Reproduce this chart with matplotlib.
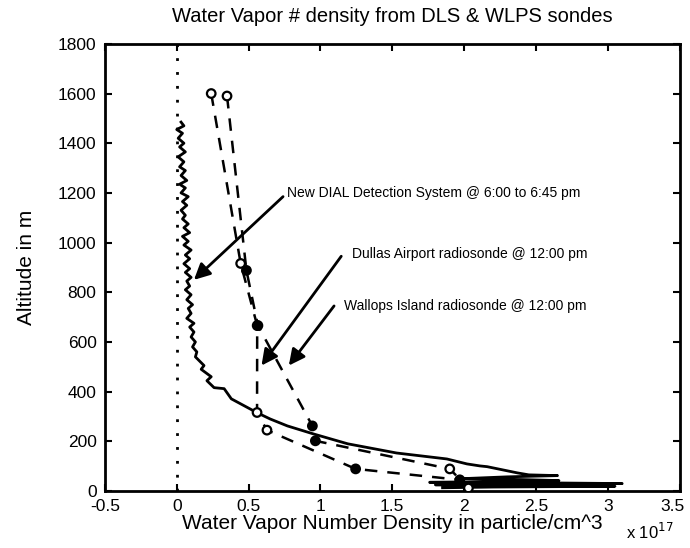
import matplotlib.pyplot as plt
import matplotlib.transforms as mtransforms
import numpy as np

plt.rcParams['font.family'] = ['Liberation Sans', 'DejaVu Sans']

# DIAL profile (x in units of 1e17 particles/cm^3, altitude in m)
dial_x = [0.03, 0.05, 0.00, 0.04, 0.01, 0.05, 0.02, 0.06, 0.01, 0.05, 0.02,
          0.06, 0.03, 0.07, 0.02, 0.06, 0.03, 0.08, 0.04, 0.07, 0.03, 0.06,
          0.04, 0.08, 0.05, 0.09, 0.04, 0.08, 0.05, 0.10, 0.06, 0.09, 0.05,
          0.09, 0.06, 0.10, 0.07, 0.09, 0.06, 0.10, 0.07, 0.11, 0.08, 0.10,
          0.07, 0.12, 0.09, 0.12, 0.10, 0.13, 0.11, 0.14, 0.13, 0.19, 0.17,
          0.24, 0.21, 0.26, 0.33, 0.38, 0.47, 0.56, 0.65, 0.77,
          0.95, 1.19, 1.53, 1.88, 2.02, 2.11, 2.16, 2.37, 2.45, 2.65, 2.30, 2.00,
          2.40, 2.66, 2.20, 1.76, 2.50, 3.10, 2.30, 1.80, 2.60, 3.05, 2.20, 1.85]
dial_y = [1485, 1470, 1455, 1440, 1420, 1400, 1385, 1365, 1345, 1325, 1305,
          1290, 1270, 1250, 1235, 1220, 1200, 1185, 1165, 1150, 1130, 1110,
          1095, 1075, 1060, 1040, 1025, 1005, 990, 970, 950, 935, 915,
          895, 880, 860, 845, 825, 810, 790, 770, 750, 735, 715,
          695, 675, 660, 640, 620, 600, 580, 560, 540, 505, 490,
          460, 444, 416, 412, 371, 343, 315, 290, 262,
          230, 190, 153, 129, 109, 101, 98, 73, 65, 62, 57, 50,
          46, 42, 38, 35, 33, 30, 27, 25, 22, 19, 16, 13]

# Dulles Airport radiosonde
dulles_x = [0.24, 0.445, 0.56, 0.559, 0.628, 1.245, 1.97]
dulles_y = [1600, 916, 666, 316, 245, 89, 45]
dulles_filled = [False, False, True, False, False, True, True]

# Wallops Island radiosonde
wallops_x = [0.35, 0.485, 0.565, 0.944, 0.965, 1.90, 2.03]
wallops_y = [1590, 888, 666, 262, 202, 89, 12]
wallops_filled = [False, True, True, True, True, False, False]

x_ticks = [-0.5, 0, 0.5, 1, 1.5, 2, 2.5, 3, 3.5]
y_ticks = [0, 200, 400, 600, 800, 1000, 1200, 1400, 1600, 1800]

fig = plt.figure(figsize=(6.9, 5.48), dpi=100)
ax = fig.add_axes([0.152, 0.104, 0.833, 0.816])

ax.plot([0, 0], [0, 1800], color='black', linestyle=(0, (1, 4)), linewidth=2)
ax.plot(dial_x, dial_y, color='black', linewidth=2)

for xs, ys, filled in [(dulles_x, dulles_y, dulles_filled),
                       (wallops_x, wallops_y, wallops_filled)]:
    ax.plot(xs, ys, color='black', linestyle=(0, (5, 4)), linewidth=1.8)
    faces = ['black' if f else 'white' for f in filled]
    ax.scatter(xs, ys, s=38, facecolors=faces, edgecolors='black',
               linewidths=1.6, zorder=3)

arrow = dict(arrowstyle='-|>', color='black', lw=2, mutation_scale=24,
             shrinkA=0, shrinkB=0)
ax.annotate('', xy=(0.12, 850), xytext=(0.74, 1185), arrowprops=arrow)
ax.annotate('', xy=(0.59, 505), xytext=(1.145, 945), arrowprops=arrow)
ax.annotate('', xy=(0.78, 505), xytext=(1.095, 745), arrowprops=arrow)

ax.text(0.77, 1198, 'New DIAL Detection System @ 6:00 to 6:45 pm',
        fontsize=10, va='center')
ax.text(1.22, 956, 'Dullas Airport radiosonde @ 12:00 pm',
        fontsize=10, va='center')
ax.text(1.165, 744, 'Wallops Island radiosonde @ 12:00 pm',
        fontsize=10, va='center')

ax.set_xlim(-0.5, 3.5)
ax.set_ylim(0, 1800)
ax.set_xticks(x_ticks)
ax.set_xticklabels([f'{t:g}' for t in x_ticks])
ax.set_yticks(y_ticks)
ax.tick_params(direction='in', top=True, right=True, labelsize=12.5,
               width=1.5, length=5)
ax.tick_params(axis='y', pad=6)
ax.tick_params(axis='x', pad=6)
for s in ax.spines.values():
    s.set_linewidth(2)

# pull the last x tick label in so it stays inside the figure
last = ax.get_xticklabels()[-1]
last.set_transform(last.get_transform() +
                   mtransforms.ScaledTranslation(-0.07, 0, fig.dpi_scale_trans))

ax.set_title('Water Vapor # density from DLS & WLPS sondes', fontsize=14.5,
             pad=16)
ax.set_xlabel('Water Vapor Number Density in particle/cm^3', fontsize=15,
              labelpad=0)
ax.set_ylabel('Altitude in m', fontsize=15, labelpad=16)
ax.text(0.99, -0.068, r'x 10$^{17}$', transform=ax.transAxes, fontsize=12,
        ha='right', va='top')

fig.savefig('out.png', dpi=100)
